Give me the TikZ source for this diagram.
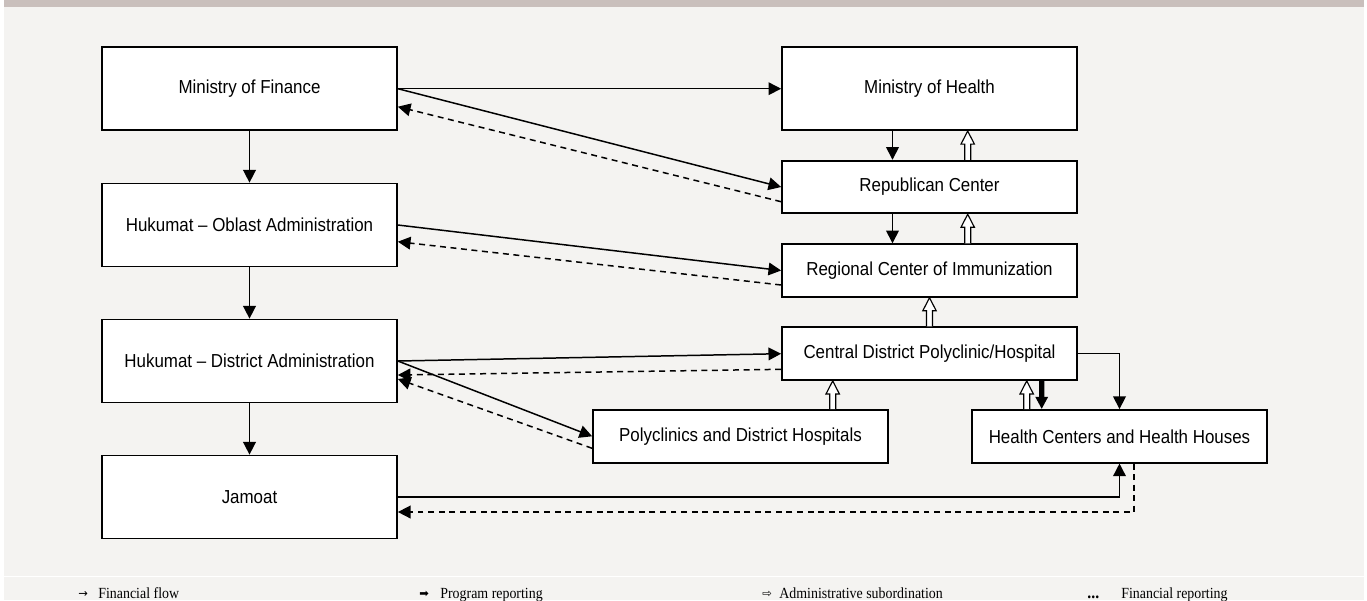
\documentclass[tikz,border=0pt]{standalone}
\usepackage{fontspec}
\setmainfont{Liberation Sans}[FakeStretch=0.9]
\newfontfamily\legendfont{Liberation Serif}[FakeStretch=0.9]
\newfontfamily\symfont{DejaVu Sans}
\usetikzlibrary{arrows.meta}
\usetikzlibrary{calc}
\usetikzlibrary{positioning}
\definecolor{bandcol}{HTML}{C9BFBC}
\definecolor{panelcol}{HTML}{F4F3F1}

\tikzset{
    unit/.style={draw, fill=white, line width=1pt, minimum width=5.9cm, font=\fontsize{10.7}{12}\selectfont},
    bigunit/.style={unit, minimum height=1.66cm},
    smallunit/.style={unit, minimum height=1.054cm},
    finflow/.style={line width=0.85pt, -{Triangle[length=7.2pt, width=7.2pt]}},
    finrep/.style={finflow, dash pattern=on 3.4pt off 2.6pt},
    progrep/.style={line width=2.9pt, -{Triangle[length=7pt, width=6.8pt]}},
    subord/.style={line width=0.65pt, fill=white, to path={let \p1=(\tikztostart), \p2=(\tikztotarget) in
        (\x1-1.7pt,\y1) -- (\x1-1.7pt,\y2-7.4pt) -- (\x1-3.8pt,\y2-7.4pt) -- (\x1,\y2)
        -- (\x1+3.8pt,\y2-7.4pt) -- (\x1+1.7pt,\y2-7.4pt) -- (\x1+1.7pt,\y1)}},
    legtext/.style={anchor=base west, inner sep=0pt, font=\legendfont\fontsize{8.8}{10}\selectfont},
    legsym/.style={anchor=base west, inner sep=0pt, font=\symfont\fontsize{6.5}{8}\selectfont}
}

\begin{document}
\begin{tikzpicture}[x=0.02cm, y=-0.02cm]
        \useasboundingbox (0,0) rectangle (1367,600);
        % Background panel and top band
        \fill[white] (0,0) rectangle (1367,600);
        \fill[panelcol] (4,0) rectangle (1364,600);
        \fill[bandcol] (4,0) rectangle (1364,7);
        \draw[white, line width=0.4pt] (4,576) -- (1364,576);

        % Left column: budget side
        \node[bigunit] (mof) at (249.5,88.7) {Ministry of Finance};
        \node[bigunit] (oblast) at (249.5,225) {Hukumat -- Oblast Administration};
        \node[bigunit] (district) at (249.5,361) {Hukumat -- District Administration};
        \node[bigunit] (jamoat) at (249.5,497) {Jamoat};

        % Right column: health side
        \node[bigunit] (moh) at (929.5,88.7) {Ministry of Health};
        \node[smallunit] (rep) at (929.5,187) {Republican Center};
        \node[smallunit] (reg) at (929.5,270.5) {Regional Center of Immunization};
        \node[smallunit] (cdh) at (929.5,353.7) {Central District Polyclinic/Hospital};
        \node[smallunit] (pc) at (740.5,436.3) {Polyclinics and District Hospitals};
        \node[smallunit] (hc) at (1119.5,436.3) {Health Centers and Health Houses};

        % Financial flow
        \draw[finflow] (mof.south) -- (oblast.north);
        \draw[finflow] (oblast.south) -- (district.north);
        \draw[finflow] (district.south) -- (jamoat.north);
        \draw[finflow] (mof.east) -- (moh.west);
        \draw[finflow] (mof.east) -- (rep.west);
        \draw[finflow] (oblast.east) -- (reg.west);
        \draw[finflow] (district.east) -- (cdh.west);
        \draw[finflow] (district.east) -- (pc.west);
        \draw[finflow] (jamoat.east) -| (hc.south);
        \draw[finflow] (cdh.east) -| (hc.north);
        \draw[finflow] ($(moh.south)+(-37,0)$) -- ($(rep.north)+(-37,0)$);
        \draw[finflow] ($(rep.south)+(-37,0)$) -- ($(reg.north)+(-37,0)$);

        % Financial reporting
        \draw[finrep] ($(rep.west)+(0,14.7)$) -- ($(mof.east)+(0,18)$);
        \draw[finrep] ($(reg.west)+(0,14.5)$) -- ($(oblast.east)+(0,16.7)$);
        \draw[finrep] ($(cdh.west)+(0,15.6)$) -- ($(district.east)+(0,14)$);
        \draw[finrep] ($(pc.west)+(0,12)$) -- ($(district.east)+(0,18)$);
        \draw[finrep] ($(hc.south)+(14.5,0)$) |- ($(jamoat.east)+(0,15)$);

        % Program reporting
        \draw[progrep] ($(cdh.south)+(112.2,0)$) -- ($(hc.north)+(-77.8,0)$);

        % Administrative subordination
        \coordinate (s1) at (967.7,0);
        \coordinate (s2) at (929.5,0);
        \coordinate (s3) at (832.7,0);
        \coordinate (s4) at (1026.7,0);
        \draw[subord] (s1 |- rep.north) to (s1 |- moh.south);
        \draw[subord] (s1 |- reg.north) to (s1 |- rep.south);
        \draw[subord] (s2 |- cdh.north) to (s2 |- reg.south);
        \draw[subord] (s3 |- pc.north) to (s3 |- cdh.south);
        \draw[subord] (s4 |- hc.north) to (s4 |- cdh.south);

        % Legend
        \node[legsym] (k1) at (78,597) {→};
        \node[legtext] (l1) at (98,598) {Financial flow};
        \node[legsym] (k2) at (419,597) {➡};
        \node[legtext] (l2) at (440,598) {Program reporting};
        \node[legsym] (k3) at (762,597) {⇨};
        \node[legtext] (l3) at (779,598) {Administrative subordination};
        \node[legtext, font=\legendfont\bfseries\fontsize{10}{10}\selectfont] (k4) at (1087,598) {...};
        \node[legtext] (l4) at (1121,598) {Financial reporting};
\end{tikzpicture}
\end{document}
